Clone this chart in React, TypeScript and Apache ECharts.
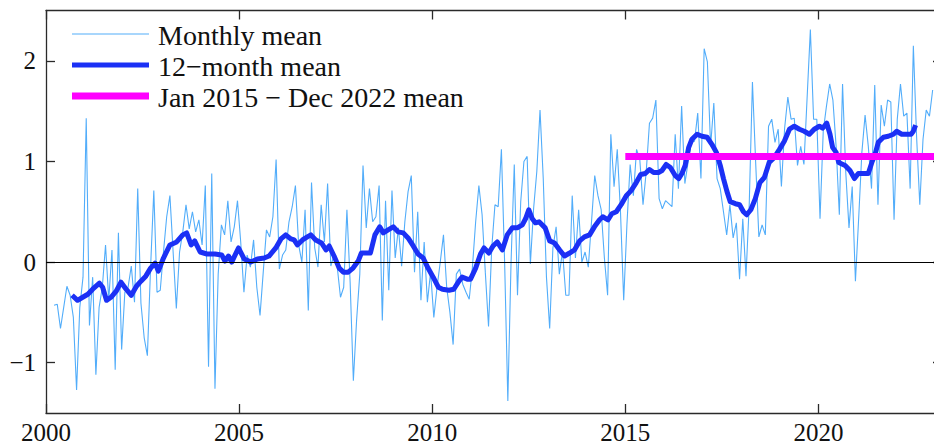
import React, { useEffect, useRef } from "react";
import * as echarts from "echarts";

// Monthly mean, one array per year (Jan..Dec); 2000 starts in March
const y2000 = [null, null, -0.43, -0.42, -0.66, -0.45, -0.24, -0.33, -0.55, -1.27, -0.45, -0.15];
const y2001 = [1.43, -0.63, -0.15, -1.12, -0.45, -0.25, 0.17, -0.38, 0.12, -1.07, 0.29, -0.87];
const y2002 = [-0.3, -0.25, -0.04, -0.4, 0.73, -0.41, -0.75, -0.93, -0.05, 0.71, -0.3, -0.28];
const y2003 = [0.1, 0.45, 0.66, 0.1, -0.46, 0.1, 0.3, 0.57, 0.33, 0.5, 0.3, 0.42];
const y2004 = [0.17, 0.76, -1.04, 0.88, -1.26, -0.12, 0.37, 0.27, 0.61, 0.2, 0.35, 0.61];
const y2005 = [0.2, -0.3, 0.07, -0.05, 0.22, -0.25, -0.53, -0.1, 0.32, 0.25, 0.45, 1.02];
const y2006 = [-0.07, 0.07, 0.12, 0.4, 0.55, 0.76, 0.17, 0.0, 0.52, -0.48, 0.79, 0.14];
const y2007 = [-0.05, 0.57, 0.2, 0.78, -0.04, 0.07, -0.05, -0.35, -0.25, 0.52, -0.2, -1.18];
const y2008 = [-0.58, -0.12, 0.96, 0.34, 0.73, 0.4, 0.45, 0.76, -0.58, 0.61, -0.28, 0.71];
const y2009 = [0.04, 0.34, -0.04, 0.4, 0.7, 0.86, -0.1, 0.5, -0.38, 0.2, -0.4, -0.1];
const y2010 = [-0.55, -0.25, 0.0, 0.27, -0.25, -0.5, -0.82, -0.12, -0.07, -0.22, -0.3, -0.37];
const y2011 = [-0.05, 0.4, 0.76, 0.47, -0.1, -0.64, 0.14, 0.57, 0.55, 1.12, 0.0, -1.38];
const y2012 = [0.0, 0.97, -0.33, 0.6, 1.0, 1.05, -0.02, 0.53, 0.9, 1.51, 0.83, -0.15];
const y2013 = [-0.66, 0.14, 0.35, -0.12, 0.11, -0.33, -0.33, 0.66, 0.04, 0.52, 0.0, 0.1];
const y2014 = [-0.05, 0.4, 0.86, 0.66, 0.52, 0.04, -0.33, 1.27, 0.75, 1.12, 0.5, -0.38];
const y2015 = [0.37, 0.97, 0.66, 1.12, 1.02, 0.57, 0.9, 1.38, 1.43, 1.61, 0.63, 0.53];
const y2016 = [0.61, 0.58, 0.55, 1.27, 0.73, 1.55, 0.78, 0.99, 1.19, 1.2, 1.48, 0.83];
const y2017 = [2.12, 1.99, 1.15, 1.58, 0.83, 0.73, 0.5, 0.27, 0.57, 0.24, 0.39, -0.17];
const y2018 = [0.43, -0.14, 0.57, 1.79, 0.99, 0.25, 0.37, 0.27, 1.35, 1.42, 1.19, 1.32];
const y2019 = [0.75, 1.33, 1.64, 1.42, 1.43, 0.96, 1.15, 0.97, 1.64, 2.31, 1.42, 1.42];
const y2020 = [0.43, 1.3, 1.55, 1.77, 1.61, 1.15, 0.47, 1.77, 0.89, 0.34, 0.75, -0.19];
const y2021 = [0.43, 1.09, 1.46, 1.15, 0.73, 1.76, 0.57, 1.56, 1.35, 1.61, 1.59, 0.42];
const y2022 = [1.42, 1.77, 1.45, 1.48, 0.73, 2.15, 1.25, 0.57, 1.22, 1.51, 1.45, 1.71];

const monthlyYears = [
  y2000, y2001, y2002, y2003, y2004, y2005, y2006, y2007, y2008, y2009, y2010, y2011,
  y2012, y2013, y2014, y2015, y2016, y2017, y2018, y2019, y2020, y2021, y2022,
];

// 12-month mean: position in months since Jan 2000, and value
const trendMonth = [
  8.1, 9.8, 11.4, 13, 14.5, 16.6, 17.6, 18.8, 20.2, 21.8, 23.3, 24.9, 26.5, 28.1, 29.5, 31,
  32.5, 33.9, 34.9, 36.5, 38.5, 40.6, 42.5, 43.7, 45.1, 46.2, 47.9, 50, 52.5, 54.6, 55.6, 56.7,
  57.7, 59.8, 61.6, 63.6, 65.7, 67.8, 69.3, 71.4, 73, 74.5, 76.1, 77.1, 78.1, 79.7, 81.2, 82.3,
  83.8, 85.6, 87, 88, 89.5, 91.1, 92.4, 93.9, 95.4, 97, 98, 99.6, 100.8, 102.2, 103.7, 104.8,
  106.3, 107.9, 109.4, 111, 112.5, 114.1, 115.6, 117.2, 118.7, 120.3, 121.9, 123.2, 125.2, 126.7,
  128.3, 129.3, 130.9, 131.9, 133.5, 135, 136.1, 137.6, 138.9, 140.2, 141.8, 143.3, 144.9, 146.4,
  148, 149, 150, 151.1, 152.1, 153.2, 155.1, 156.5, 158, 159.6, 161.1, 162.7, 164.2, 165.8, 167.3,
  168.9, 170.4, 172, 173, 174.6, 175.8, 177.2, 178.7, 180.3, 181.8, 183.4, 184.8, 186.2, 187.5,
  188.8, 190.3, 191.4, 192.7, 194, 195.5, 196.6, 197.6, 198.6, 199.7, 200.7, 202.3, 203.8, 205.4,
  206.9, 208.3, 209.5, 210.5, 211.6, 212.6, 214.2, 215.5, 216.7, 217.7, 219, 220.4, 221.8, 223.2,
  224.7, 226.3, 227.9, 229.4, 231, 232.5, 234.1, 235.6, 237.2, 238.7, 240.3, 241.3, 242.6, 243.6,
  244.4, 245.5, 246.3, 248.3, 249.8, 251.2, 252.4, 254, 255.5, 256.6, 257.6, 258.6, 260.2, 261.7,
  263.3, 264.3, 265.9, 267.4, 268.8, 269.5, 270.2,
];
const trendValue = [
  -0.33, -0.38, -0.35, -0.32, -0.27, -0.21, -0.25, -0.38, -0.35, -0.29, -0.2, -0.27, -0.33, -0.24, -0.19, -0.14,
  -0.06, -0.01, -0.09, 0.04, 0.17, 0.2, 0.27, 0.29, 0.17, 0.21, 0.1, 0.08, 0.08, 0.07, 0.01, 0.06,
  0.0, 0.14, 0.03, 0.0, 0.03, 0.04, 0.06, 0.14, 0.23, 0.27, 0.23, 0.22, 0.17, 0.22, 0.25, 0.27,
  0.22, 0.19, 0.12, 0.16, 0.06, -0.06, -0.1, -0.1, -0.06, 0.01, 0.09, 0.09, 0.09, 0.27, 0.35, 0.29,
  0.32, 0.35, 0.3, 0.29, 0.24, 0.16, 0.08, 0.04, -0.06, -0.15, -0.25, -0.27, -0.28, -0.27,
  -0.19, -0.15, -0.17, -0.17, -0.06, 0.08, 0.14, 0.09, 0.16, 0.2, 0.12, 0.27, 0.34, 0.34,
  0.37, 0.43, 0.52, 0.43, 0.39, 0.4, 0.34, 0.21, 0.19, 0.12, 0.06, 0.09, 0.12, 0.21, 0.25,
  0.27, 0.35, 0.42, 0.45, 0.42, 0.48, 0.5, 0.57, 0.66, 0.71, 0.79, 0.87, 0.88, 0.92,
  0.89, 0.89, 0.91, 0.97, 0.94, 0.86, 0.83, 0.88, 0.96, 1.14, 1.22, 1.27, 1.25, 1.24,
  1.17, 1.09, 0.96, 0.83, 0.7, 0.6, 0.58, 0.57, 0.5, 0.47, 0.52, 0.63, 0.79, 0.84,
  0.99, 1.04, 1.12, 1.2, 1.32, 1.35, 1.32, 1.3, 1.27, 1.32, 1.35, 1.33, 1.38, 1.27,
  1.14, 1.09, 0.99, 0.96, 0.91, 0.83, 0.88, 0.88, 0.88, 0.99, 1.07, 1.19, 1.24, 1.25,
  1.27, 1.3, 1.27, 1.27, 1.27, 1.3, 1.36,
];

// Jan 2015 - Dec 2022 mean
const periodMeanYears = [2015, 2023];
const periodMeanValue = 1.05;

const xTicks = [2000, 2005, 2010, 2015, 2020];
const yTicks = [-1, 0, 1, 2];

const legendLabels = ["Monthly mean", "12\u2212month mean", "Jan 2015 \u2212 Dec 2022 mean"];

const FONT = "Liberation Serif";
const AXIS_COLOR = "#2a2a2a";
const MONTHLY_COLOR = "#52adfa";
const TREND_COLOR = "#1b30f5";
const MEAN_COLOR = "#ff00ff";

export default function App() {
  const ref = useRef<HTMLDivElement>(null);

  useEffect(() => {
    if (!ref.current) return;
    const chart = echarts.init(ref.current, undefined, { renderer: "svg" });

    const monthlyData: [number, number][] = [];
    monthlyYears.forEach((arr, yi) => {
      arr.forEach((v, mi) => {
        if (v !== null && v !== undefined) {
          monthlyData.push([2000 + yi + (mi + 0.5) / 12, v as number]);
        }
      });
    });
    const trendData = trendMonth.map((t, i) => [2000 + t / 12, trendValue[i]]);
    const meanData = periodMeanYears.map((yr) => [yr, periodMeanValue]);

    const xMin = 2000;
    const xMax = 2023.2;
    const yMin = -1.5;
    const yMax = 2.5;

    const tickCommon = { inside: true, length: 9, lineStyle: { color: AXIS_COLOR, width: 1.3 } };
    const lineCommon = { show: true, onZero: false, lineStyle: { color: AXIS_COLOR, width: 1.3 } };

    const legendRows = [
      { color: MONTHLY_COLOR, width: 1.2 },
      { color: TREND_COLOR, width: 5 },
      { color: MEAN_COLOR, width: 7 },
    ];
    const legendY = [34, 65, 96];
    const graphics: any[] = [];
    legendRows.forEach((r, i) => {
      graphics.push({
        type: "line",
        shape: { x1: 72, y1: legendY[i], x2: 149, y2: legendY[i] },
        style: { stroke: r.color, lineWidth: r.width },
        silent: true,
      });
      graphics.push({
        type: "text",
        x: 158,
        y: legendY[i] + 1,
        style: {
          text: legendLabels[i],
          fontFamily: FONT,
          fontSize: 28,
          fill: "#111",
          verticalAlign: "middle",
          align: "left",
        },
        silent: true,
      });
    });

    const fmt = (v: number) => String(v).replace("-", "\u2212");

    chart.setOption({
      animation: false,
      backgroundColor: "#ffffff",
      grid: { left: 46, top: 10.5, right: 0, bottom: 28.5, containLabel: false },
      xAxis: [
        {
          type: "value",
          position: "bottom",
          min: xMin,
          max: xMax,
          axisLine: lineCommon,
          axisTick: { ...tickCommon, customValues: xTicks },
          axisLabel: {
            customValues: xTicks,
            color: "#111",
            fontFamily: FONT,
            fontSize: 25,
            margin: 7,
            formatter: (v: number) => fmt(v),
          },
          splitLine: { show: false },
        },
        {
          type: "value",
          position: "top",
          min: xMin,
          max: xMax,
          axisLine: lineCommon,
          axisTick: { ...tickCommon, customValues: xTicks },
          axisLabel: { show: false },
          splitLine: { show: false },
        },
      ],
      yAxis: [
        {
          type: "value",
          position: "left",
          min: yMin,
          max: yMax,
          axisLine: lineCommon,
          axisTick: { ...tickCommon, customValues: yTicks },
          axisLabel: {
            customValues: yTicks,
            color: "#111",
            fontFamily: FONT,
            fontSize: 25,
            margin: 10,
            formatter: (v: number) => fmt(v),
          },
          splitLine: { show: false },
        },
        {
          type: "value",
          position: "right",
          min: yMin,
          max: yMax,
          axisLine: lineCommon,
          axisTick: { ...tickCommon, customValues: yTicks },
          axisLabel: { show: false },
          splitLine: { show: false },
        },
      ],
      series: [
        {
          name: "Monthly mean",
          type: "line",
          data: monthlyData,
          showSymbol: false,
          symbol: "none",
          lineStyle: { color: MONTHLY_COLOR, width: 1.1 },
          itemStyle: { color: MONTHLY_COLOR },
          z: 2,
          markLine: {
            silent: true,
            symbol: "none",
            label: { show: false },
            lineStyle: { color: "#000", width: 1.2, type: "solid" },
            data: [{ yAxis: 0 }],
          },
        },
        {
          name: "12-month mean",
          type: "line",
          data: trendData,
          showSymbol: false,
          symbol: "none",
          lineStyle: { color: TREND_COLOR, width: 5, join: "round" },
          itemStyle: { color: TREND_COLOR },
          z: 3,
        },
        {
          name: "Jan 2015 - Dec 2022 mean",
          type: "line",
          data: meanData,
          showSymbol: false,
          symbol: "none",
          lineStyle: { color: MEAN_COLOR, width: 7, cap: "butt" },
          itemStyle: { color: MEAN_COLOR },
          z: 4,
        },
      ],
      graphic: graphics,
    });

    return () => chart.dispose();
  }, []);

  return (
    <div
      style={{
        position: "absolute",
        left: 0,
        top: 0,
        width: 934,
        height: 445,
        overflow: "hidden",
        background: "#fff",
      }}
    >
      <div ref={ref} style={{ width: 942, height: 445 }} />
    </div>
  );
}
